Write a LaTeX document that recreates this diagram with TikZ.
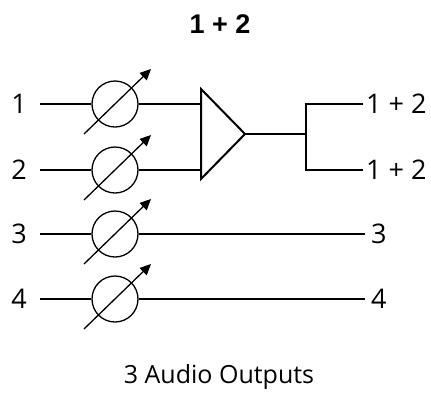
\documentclass[tikz,border=0pt]{standalone}
\usepackage{fontspec}
\setmainfont{Open Sans}
\newfontfamily\titlefont{Liberation Sans}
\usetikzlibrary{arrows.meta}
\begin{document}
\begin{tikzpicture}[x=1pt,y=-1pt,
  wire/.style={line width=1.3pt},
  pot/.style={circle,draw,line width=1.3pt,minimum size=46pt,inner sep=0pt},
  potarrow/.style={line width=1.3pt,-{Triangle[length=11pt,width=10pt]}},
  amp/.style={line width=2pt,line join=miter},
  lbl/.style={inner sep=0pt,font=\fontsize{27}{29}\selectfont},
  ]
\useasboundingbox (0,0) rectangle (431,392);
\node[inner sep=0pt,anchor=base,font=\titlefont\bfseries\fontsize{27}{29}\selectfont] (title) at (220,33) {1 + 2};
% rows
\foreach \n/\y in {1/104,2/170,3/234,4/299}{
  \node[lbl,anchor=base] (in\n) at (19,\y+9) {\n};
  \coordinate (s\n) at (40,\y);
  \node[pot] (p\n) at (115,\y) {};
  \draw[wire] (s\n) -- (p\n.west);
  \draw[potarrow] ([shift={(-31,30)}]p\n.center) -- ([shift={(36,-35)}]p\n.center);
}
% amplifier
\coordinate (ta) at (201,89);
\coordinate (tb) at (201,179);
\coordinate (tip) at (245,134);
\coordinate (a1) at (201,104);
\coordinate (a2) at (201,170);
\draw[amp] (ta) -- (tip) -- (tb) -- cycle;
\draw[wire] (p1.east) -- (a1);
\draw[wire] (p2.east) -- (a2);
\coordinate (j) at (306,134);
\coordinate (jt) at (306,104);
\coordinate (jb) at (306,170);
\coordinate (e1) at (363,104);
\coordinate (e2) at (363,170);
\node[lbl,anchor=base west] (o1) at (366,113) {1 + 2};
\node[lbl,anchor=base west] (o2) at (366,179) {1 + 2};
\node[lbl,anchor=base west] (o3) at (371,243) {3};
\node[lbl,anchor=base west] (o4) at (371,308) {4};
\draw[wire] (tip) -- (j);
\draw[wire] (e1) -- (jt) -- (jb) -- (e2);
\coordinate (e3) at (365,234);
\coordinate (e4) at (365,299);
\draw[wire] (p3.east) -- (e3);
\draw[wire] (p4.east) -- (e4);
\node[inner sep=0pt,anchor=base,font=\fontsize{25}{27}\selectfont] (cap) at (219,383) {3 Audio Outputs};
\end{tikzpicture}
\end{document}
